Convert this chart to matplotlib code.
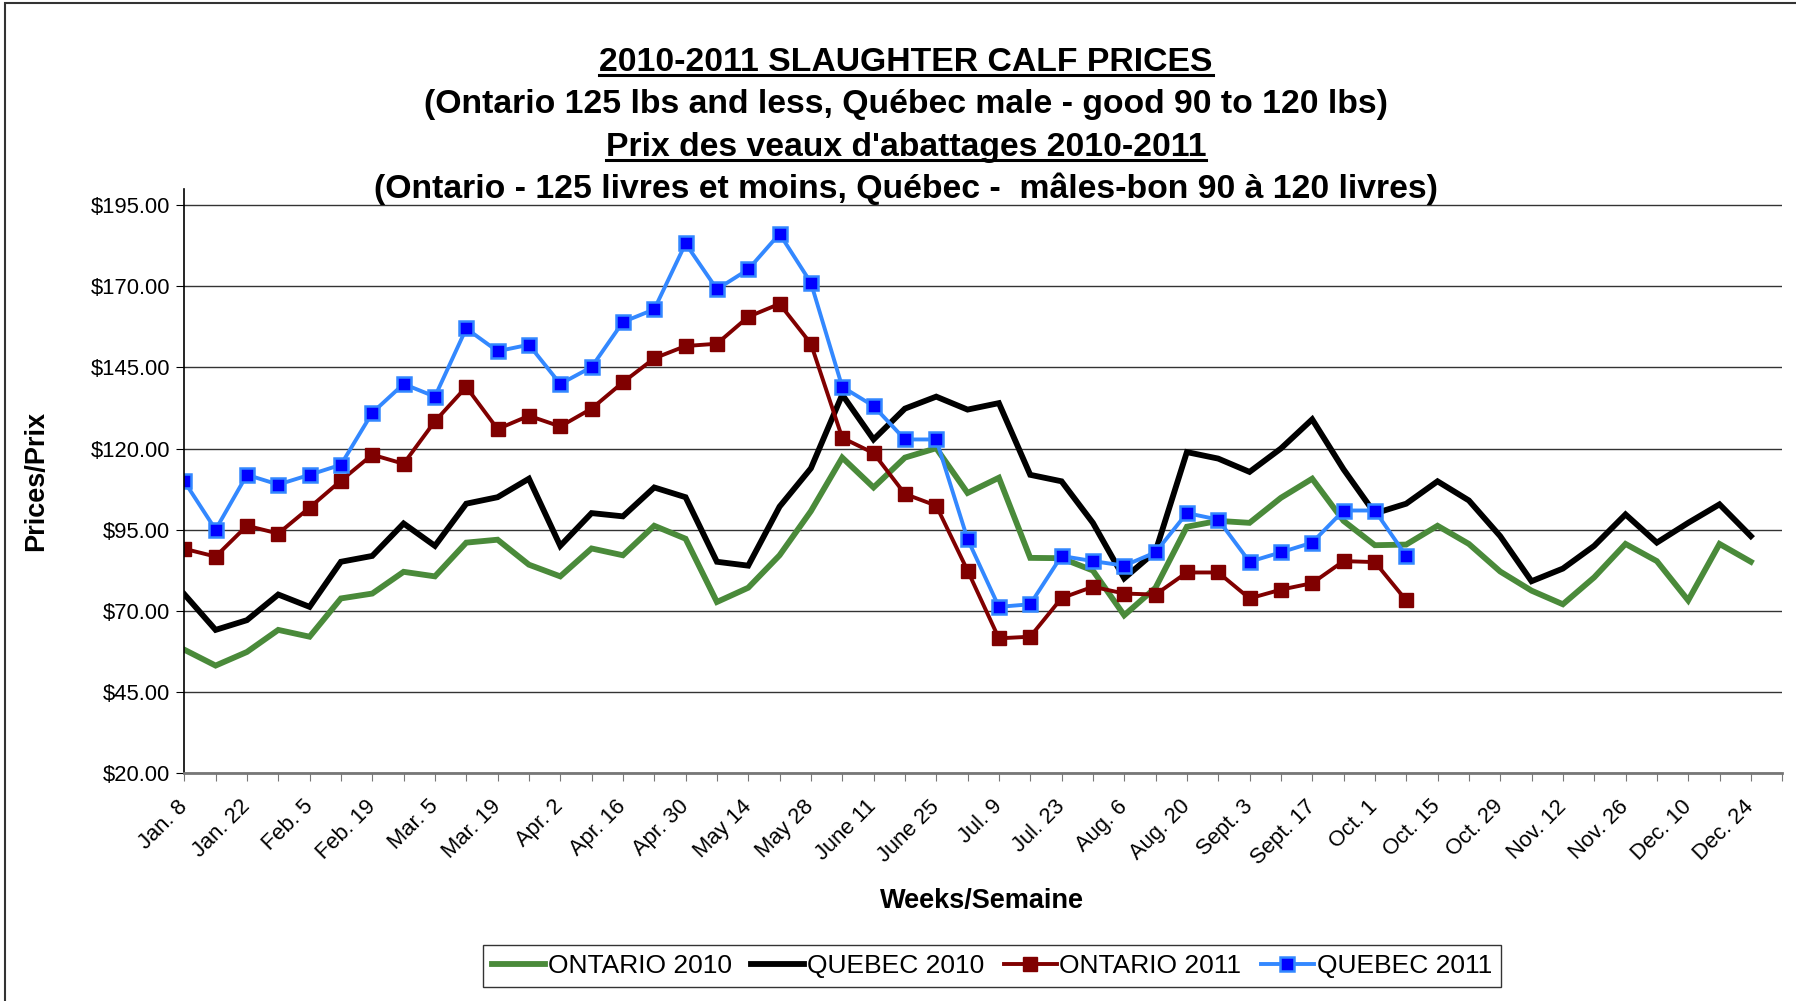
import numpy as np
import matplotlib.pyplot as plt
from matplotlib.lines import Line2D
from matplotlib.patches import Rectangle

plt.rcParams['font.family'] = ['Liberation Sans', 'DejaVu Sans']

# weekly prices, Jan. 8 .. Dec. 24 (51 weeks); axis has one extra empty week
ontario_2010 = [58.0, 53.1, 57.3, 64.1, 62.0, 73.8, 75.3, 82.0, 80.6, 91.0, 91.9, 84.2, 80.6,
                89.2, 87.1, 96.2, 92.2, 72.7, 77.1, 87.1, 100.7, 117.2, 108.0, 117.2, 120.1, 106.3,
                111.0, 86.3, 86.2, 82.4, 68.6, 77.1, 95.9, 97.7, 97.1, 104.8, 110.7, 97.7, 90.2,
                90.4, 96.2, 90.6, 82.1, 76.2, 72.0, 80.3, 90.6, 85.3, 73.2, 90.6, 85.1]
quebec_2010 = [75.1, 64.1, 67.1, 75.0, 71.2, 85.1, 86.9, 96.9, 90.0, 103.0, 105.0, 110.7, 90.0,
               100.1, 99.1, 108.0, 105.0, 85.1, 83.9, 102.1, 113.9, 136.6, 122.8, 132.3, 136.0, 132.0,
               134.0, 111.9, 109.9, 97.1, 80.0, 88.3, 118.9, 116.9, 112.8, 120.0, 129.0, 113.6, 100.0,
               103.0, 109.9, 104.0, 93.0, 79.1, 83.0, 90.0, 99.7, 91.0, 97.1, 102.8, 93.0]
ontario_2011 = [89.1, 86.7, 96.2, 93.8, 101.8, 110.1, 118.1, 115.3, 128.4, 139.0, 126.0, 130.1, 126.8,
                132.3, 140.4, 147.8, 151.6, 152.3, 160.6, 164.6, 152.3, 123.3, 118.6, 106.0, 102.4, 82.4,
                61.5, 62.0, 73.9, 77.4, 75.3, 75.0, 81.8, 81.8, 73.8, 76.5, 78.5, 85.3, 85.0, 73.2]
quebec_2011 = [109.9, 95.0, 111.9, 108.9, 111.9, 115.0, 131.0, 139.9, 136.0, 157.0, 150.0, 152.0, 139.9,
               145.1, 159.0, 162.9, 183.2, 169.1, 175.2, 186.2, 171.1, 139.0, 133.1, 122.8, 122.8, 92.1,
               71.2, 72.0, 86.9, 85.3, 83.9, 88.0, 100.1, 98.1, 85.1, 88.0, 91.0, 100.9, 100.9, 86.9]

week_labels = ['Jan. 8', 'Jan. 22', 'Feb. 5', 'Feb. 19', 'Mar. 5', 'Mar. 19', 'Apr. 2', 'Apr. 16',
               'Apr. 30', 'May 14', 'May 28', 'June 11', 'June 25', 'Jul. 9', 'Jul. 23', 'Aug. 6',
               'Aug. 20', 'Sept. 3', 'Sept. 17', 'Oct. 1', 'Oct. 15', 'Oct. 29', 'Nov. 12', 'Nov. 26',
               'Dec. 10', 'Dec. 24']
n_weeks = 52
y_ticks = [20, 45, 70, 95, 120, 145, 170, 195]

fig = plt.figure(figsize=(17.96, 10.01), dpi=100)
ax = fig.add_axes([0.1026, 0.2278, 0.8897, 0.5834])

ax.plot(range(len(ontario_2010)), ontario_2010, color='#4a8a3a', lw=4.2, label='ONTARIO 2010',
        solid_joinstyle='miter')
ax.plot(range(len(quebec_2010)), quebec_2010, color='black', lw=4.2, label='QUEBEC 2010',
        solid_joinstyle='miter')
ax.plot(range(len(ontario_2011)), ontario_2011, color='#800000', lw=2.8, marker='s', ms=10.5,
        mfc='#800000', mec='#800000', label='ONTARIO 2011')
ax.plot(range(len(quebec_2011)), quebec_2011, color='#3388ff', lw=2.8, marker='s', ms=10.5,
        mfc='#0000ff', mec='#3388ff', mew=1.8, label='QUEBEC 2011')

ax.set_xlim(0, n_weeks - 1)
ax.set_ylim(20, 200)
ax.set_yticks(y_ticks)
ax.set_yticklabels(['$%.2f' % v for v in y_ticks], fontsize=15.8)
ax.yaxis.grid(True, color='#333333', lw=1)
ax.set_axisbelow(True)

ax.set_xticks(range(n_weeks))
labels = []
for i in range(n_weeks):
    labels.append(week_labels[i // 2] if i % 2 == 0 and i // 2 < len(week_labels) else '')
ax.set_xticklabels(labels, rotation=45, ha='right', va='center', rotation_mode='anchor', fontsize=15.8)
ax.tick_params(axis='x', direction='out', length=6, color='#777777', pad=16)
ax.tick_params(axis='y', direction='out', length=6, color='black', pad=4)

for s in ['top', 'right']:
    ax.spines[s].set_visible(False)
ax.spines['left'].set_color('black')
ax.spines['left'].set_linewidth(1.2)
ax.spines['bottom'].set_color('#777777')
ax.spines['bottom'].set_linewidth(2)

fig.text(36 / 1796, 1 - 481 / 1001, 'Prices/Prix', rotation=90, ha='center', va='center',
         fontsize=19.5, fontweight='bold')
fig.text(982 / 1796, 1 - 901 / 1001, 'Weeks/Semaine', ha='center', va='center',
         fontsize=19.5, fontweight='bold')

titles = ['2010-2011 SLAUGHTER CALF PRICES',
          '(Ontario 125 lbs and less, Québec male - good 90 to 120 lbs)',
          "Prix des veaux d'abattages 2010-2011",
          '(Ontario - 125 livres et moins, Québec -  mâles-bon 90 à 120 livres)']
title_y = [62.5, 105, 147.3, 188.5]
title_objs = []
for t, y in zip(titles, title_y):
    title_objs.append(fig.text(0.5045, 1 - y / 1001, t, ha='center', va='center',
                               fontsize=24.3, fontweight='bold'))

# chart frame
fig.patches.append(Rectangle((5 / 1796, -0.1), 1.2, 1 - 3 / 1001 + 0.1, transform=fig.transFigure,
                             fill=False, edgecolor='#333333', lw=1.5))

fig.legend(loc='center', bbox_to_anchor=(992 / 1796, 1 - 966 / 1001), ncol=4, fontsize=19,
           frameon=True, fancybox=False, edgecolor='black', handlelength=2.0, handletextpad=0.1,
           columnspacing=0.75, borderpad=0.35, borderaxespad=0)

# underline title lines 1 and 3
fig.canvas.draw()
r = fig.canvas.get_renderer()
for k in [0, 2]:
    bb = title_objs[k].get_window_extent(renderer=r)
    yy = (bb.y0 + 3) / fig.bbox.height
    fig.lines.append(Line2D([bb.x0 / fig.bbox.width, bb.x1 / fig.bbox.width], [yy, yy],
                            transform=fig.transFigure, color='black', lw=2.2))

fig.savefig('out.png', dpi=100)
